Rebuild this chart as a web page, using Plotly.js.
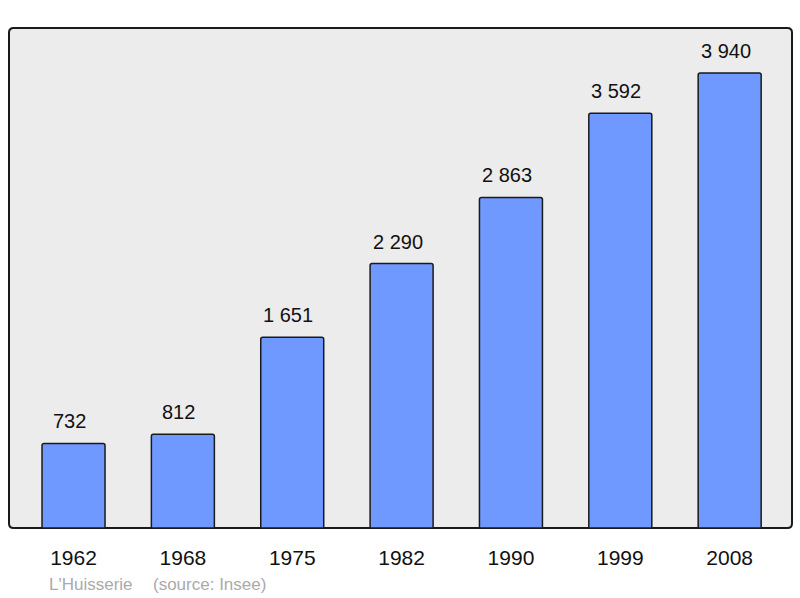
<!DOCTYPE html>
<html><head><meta charset="utf-8">
<script src="https://cdn.plot.ly/plotly-3.0.1.min.js"></script>
<style>html,body{margin:0;padding:0;background:#fff}#c{width:800px;height:598px}</style>
</head><body><div id="c"></div>
<script>
const years = ['1962','1968','1975','1982','1990','1999','2008'];
const population = [732, 812, 1651, 2290, 2863, 3592, 3940];
const footerPlace = "L'Huisserie";
const footerSource = "(source: Insee)";

const xs = years.map((_, i) => i);
const fmt = v => String(v).replace(/\B(?=(\d{3})+(?!\d))/g, '\u00a0');
const FONT = 'Liberation Sans, Arial, sans-serif';

const trace = {
  type: 'bar', x: xs, y: population, width: 0.576,
  marker: {color: '#7099ff', line: {color: '#1a1a1a', width: 1.5}, cornerradius: 2},
  hoverinfo: 'none'
};

const annotations = population.map((v, i) => ({
  x: i, y: v, xref: 'x', yref: 'y', text: fmt(v), showarrow: false,
  yanchor: 'bottom', yshift: 9, xshift: -4, font: {family: FONT, size: 20, color: '#111'}
}));
annotations.push({
  xref: 'paper', yref: 'paper', x: 38/783, y: -56/500, xanchor: 'left', yanchor: 'middle',
  text: footerPlace, showarrow: false, font: {family: FONT, size: 17, color: '#aaaaaa'}
});
annotations.push({
  xref: 'paper', yref: 'paper', x: 141.5/783, y: -56/500, xanchor: 'left', yanchor: 'middle',
  text: footerSource, showarrow: false, font: {family: FONT, size: 17, color: '#aaaaaa'}
});

const r = 0.006, ry = 0.009;
const framePath = `M ${r} 0 L ${1-r} 0 Q 1 0 1 ${ry} L 1 ${1-ry} Q 1 1 ${1-r} 1 L ${r} 1 Q 0 1 0 ${1-ry} L 0 ${ry} Q 0 0 ${r} 0 Z`;

const layout = {
  width: 800, height: 598,
  margin: {l: 9, r: 8, t: 28, b: 70},
  paper_bgcolor: '#ffffff', plot_bgcolor: '#ffffff',
  showlegend: false,
  xaxis: {range: [-0.59, 6.57], tickvals: xs, ticktext: years, showgrid: false, zeroline: false,
          showline: false, ticks: '', ticklen: 0, ticklabelstandoff: 15,
          tickfont: {family: FONT, size: 21, color: '#111'}, fixedrange: true},
  yaxis: {range: [0, 4330], showgrid: false, zeroline: false, showticklabels: false, ticks: '', showline: false, fixedrange: true},
  shapes: [{type: 'path', xref: 'paper', yref: 'paper', path: framePath,
            fillcolor: '#ececec', line: {color: '#1a1a1a', width: 2}, layer: 'below'}],
  annotations: annotations
};
Plotly.newPlot('c', [trace], layout, {staticPlot: true, displayModeBar: false});
</script></body></html>
